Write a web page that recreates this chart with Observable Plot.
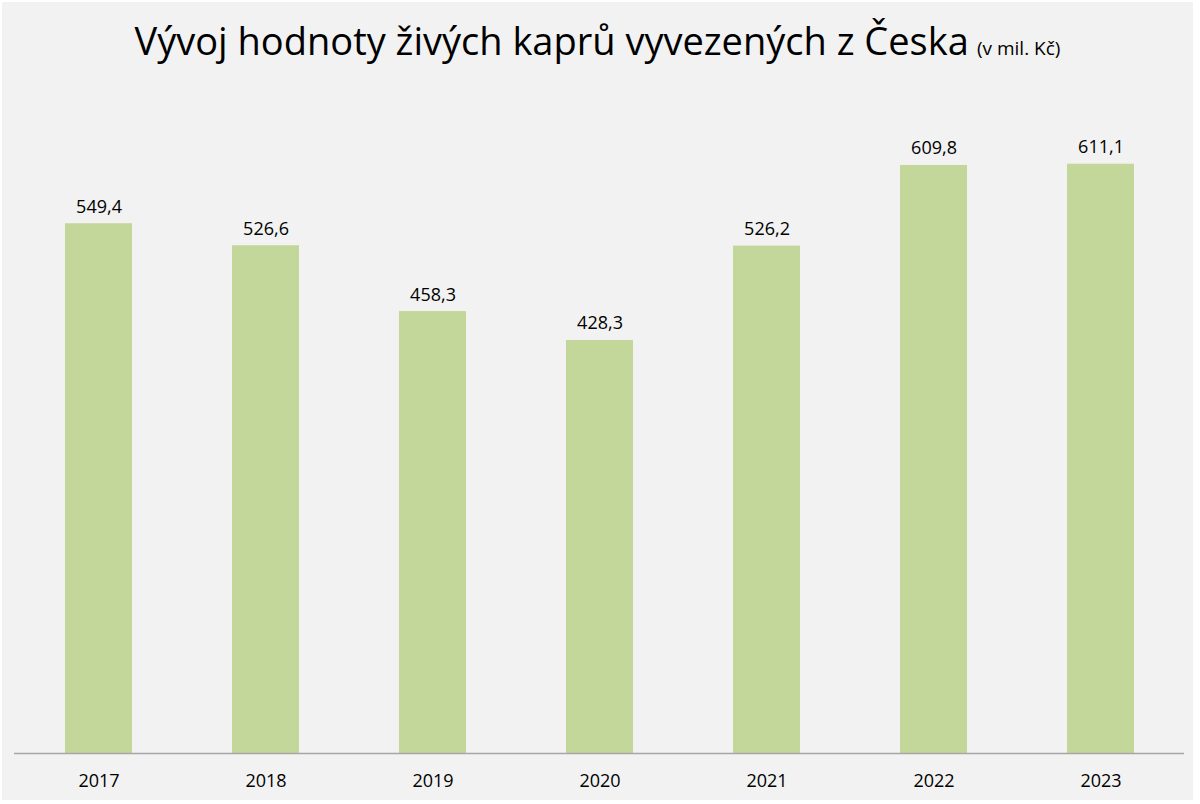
<!DOCTYPE html>
<html>
<head>
<meta charset="utf-8">
<script src="https://cdn.jsdelivr.net/npm/d3@7"></script>
<script src="https://cdn.jsdelivr.net/npm/@observablehq/plot@0.6"></script>
<style>
  html, body { margin: 0; padding: 0; background: #ffffff; }
  #frame { position: absolute; left: 2px; top: 2px; width: 1191px; height: 798px; background: #f2f2f2; overflow: hidden; font-family: "Open Sans", sans-serif; }
  #title { height: 70px; box-sizing: border-box; padding-top: 16px; text-align: center; color: #000; white-space: nowrap; }
  #title .main { font-size: 38px; line-height: 44px; }
  #title .sub { font-size: 19px; margin-left: 4px; }
  #chart svg { display: block; background: transparent; }
</style>
</head>
<body>
<div id="frame">
  <div id="title"><span class="main">Vývoj hodnoty živých kaprů vyvezených z Česka</span> <span class="sub">(v mil. Kč)</span></div>
  <div id="chart"></div>
</div>
<script>
const years = ["2017", "2018", "2019", "2020", "2021", "2022", "2023"];
const values = [549.4, 526.6, 458.3, 428.3, 526.2, 609.8, 611.1];

const data = years.map((year, i) => ({year, value: values[i]}));
const fmt = v => v.toFixed(1).replace(".", ",");

const plot = Plot.plot({
  width: 1191,
  height: 728,
  marginTop: 6,
  marginBottom: 47,
  marginLeft: 12,
  marginRight: 9,
  style: {fontFamily: "Open Sans, sans-serif", fontSize: "18px", color: "#000", background: "transparent"},
  x: {domain: years, paddingInner: 0.6, paddingOuter: 0.3, label: null, tickSize: 0, tickPadding: 21},
  y: {domain: [0, 700], axis: null},
  marks: [
    Plot.barY(data, {x: "year", y: "value", fill: "#c4d79b"}),
    Plot.ruleY([0], {stroke: "#a6a6a6", strokeWidth: 1.3}),
    Plot.text(data, {x: "year", y: "value", text: d => fmt(d.value), lineAnchor: "bottom", dy: -11, fontSize: 18, fill: "#000"})
  ]
});
document.getElementById("chart").appendChild(plot);
</script>
</body>
</html>
